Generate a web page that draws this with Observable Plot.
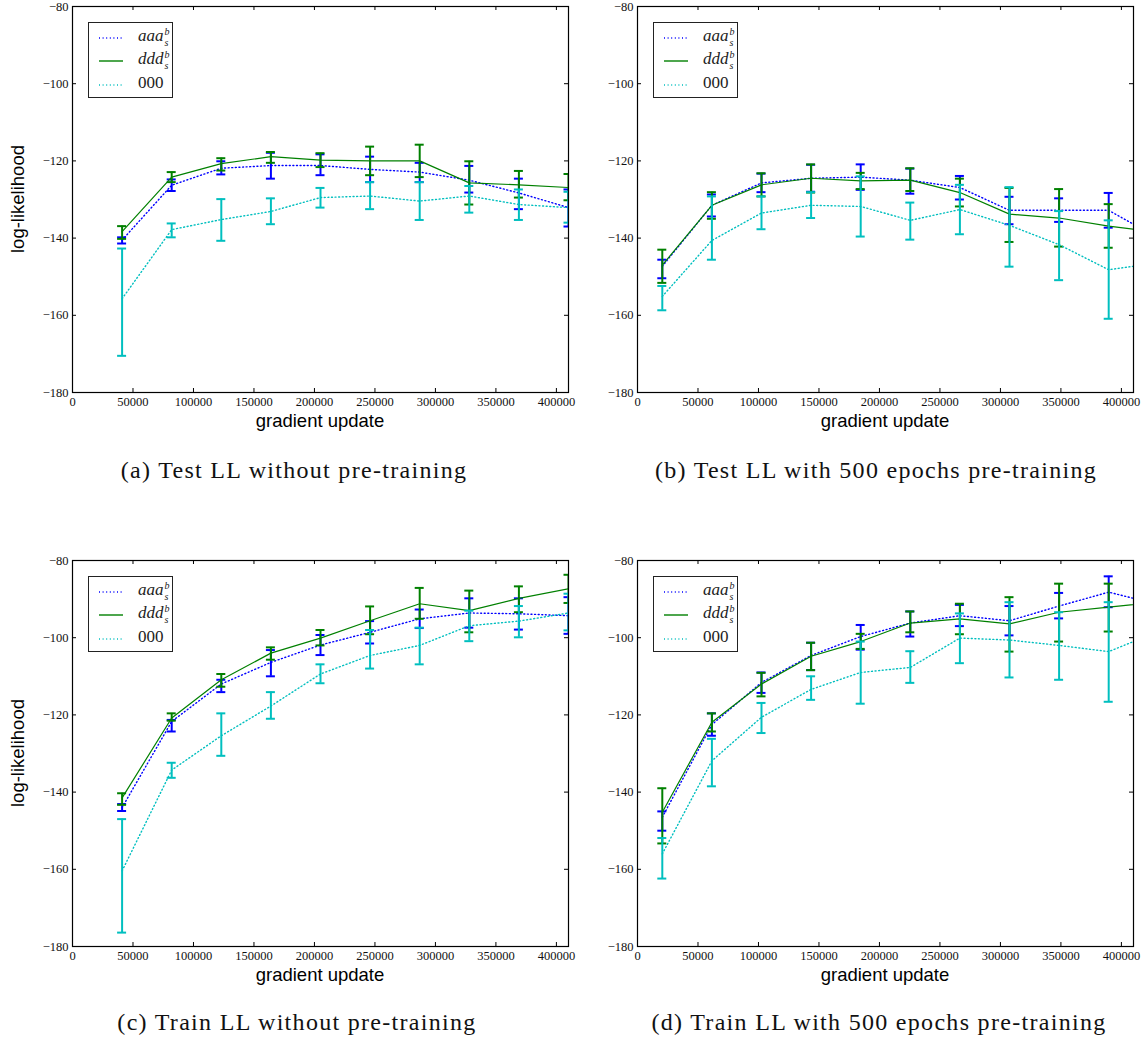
<!DOCTYPE html>
<html>
<head>
<meta charset="utf-8">
<script src="https://cdn.jsdelivr.net/npm/d3@7"></script>
<script src="https://cdn.jsdelivr.net/npm/@observablehq/plot@0.6"></script>
<style>
  html, body { margin: 0; padding: 0; background: #fff; }
  #fig { position: relative; width: 1146px; height: 1040px; background: #fff; overflow: hidden; }
  .panel { position: absolute; }
  .panel svg { overflow: visible; max-width: none; background: transparent; }
  .panel svg text, .panel svg g[aria-label$="tick label"] { font-family: "Liberation Serif", "Times New Roman", serif !important; font-size: 12.5px !important; }
  .xlabel, .ylabel { position: absolute; font-family: "Liberation Sans", Arial, sans-serif; font-size: 18.5px; color: #000; white-space: nowrap; transform: translate(-50%, -50%); }
  .ylabel { transform: translate(-50%, -50%) rotate(-90deg); }
  .caption { position: absolute; font-family: "Liberation Serif", "Times New Roman", serif; font-size: 24px; letter-spacing: 1.3px; color: #111; white-space: nowrap; transform: translate(-50%, -50%); }
  .legend { position: absolute; width: 85px; height: 76px; border: 1.3px solid #222; background: #fff; box-sizing: border-box; }
  .lrow { position: absolute; left: 0; height: 20px; width: 85px; }
  .lrow svg { position: absolute; left: 9px; top: 5px; }
  .ltext { position: absolute; left: 49px; top: -2px; font-family: "Liberation Serif", "Times New Roman", serif; font-size: 17px; color: #222; white-space: nowrap; line-height: 20px; }
  .ltext .base.it { font-style: italic; }
  .ss { display: inline-flex; flex-direction: column; font-style: italic; font-size: 10px; line-height: 11px; vertical-align: 6px; margin-left: 1px; }
</style>
</head>
<body>
<div id="fig"></div>
<script>
// ---------------- data ----------------
const xTicks = [0, 50000, 100000, 150000, 200000, 250000, 300000, 350000, 400000];
const yTicks = [-180, -160, -140, -120, -100, -80];
const xDomain = [0, 410000];
const yDomain = [-180, -80];

const seriesNames = ["aaa", "ddd", "000"];
const seriesSup = ["b", "b", ""];
const seriesSub = ["s", "s", ""];
const seriesItalic = [true, true, false];
const seriesColors = ["#0000ff", "#008000", "#00bfbf"];
const seriesDash = ["1,2.6", null, "1,2.6"];

const captions = [
  "(a) Test LL without pre-training",
  "(b) Test LL with 500 epochs pre-training",
  "(c) Train LL without pre-training",
  "(d) Train LL with 500 epochs pre-training"
];
const xAxisTitle = "gradient update";
const yAxisTitle = "log-likelihood";

// x positions of measurements
const xNoPre = [41000, 82000, 123000, 164000, 205000, 246000, 287000, 328000, 369000, 410000];
const xPre = [20500, 61500, 102500, 143500, 184500, 225500, 266500, 307500, 348500, 389500, 430500];

// (a) Test LL without pre-training
const aAaaMean = [-140.5, -126.3, -121.9, -121.2, -121.2, -122.2, -122.9, -125.0, -128.3, -132.1];
const aAaaHi   = [-139.8, -124.8, -120.1, -117.9, -118.3, -118.9, -120.5, -121.3, -124.6, -127.4];
const aAaaLo   = [-141.4, -127.8, -123.5, -124.6, -123.7, -125.5, -125.5, -128.2, -132.5, -137.0];
const aDddMean = [-138.3, -124.2, -120.7, -118.9, -119.8, -120.0, -120.0, -125.7, -126.2, -126.9];
const aDddHi   = [-136.9, -122.9, -119.3, -117.7, -118.0, -116.3, -115.8, -120.1, -122.6, -123.4];
const aDddLo   = [-140.2, -125.5, -122.5, -120.5, -121.6, -123.7, -124.2, -131.3, -129.5, -130.2];
const aZeroMean = [-155.7, -137.8, -135.2, -133.1, -129.5, -129.1, -130.4, -129.1, -131.3, -132.1];
const aZeroHi   = [-142.7, -136.2, -129.9, -129.7, -127.0, -125.5, -125.5, -126.5, -127.4, -128.0];
const aZeroLo   = [-170.5, -139.8, -140.7, -136.4, -132.1, -132.5, -135.3, -133.4, -135.3, -136.0];

// (b) Test LL with 500 epochs pre-training
const bAaaMean = [-147.3, -131.5, -125.7, -124.5, -124.2, -125.0, -126.9, -132.8, -132.8, -132.8, -140.0];
const bAaaHi   = [-145.6, -128.7, -123.3, -121.0, -120.9, -122.0, -123.9, -129.3, -129.7, -128.3];
const bAaaLo   = [-150.4, -134.4, -128.1, -128.0, -127.5, -128.5, -130.0, -136.4, -135.8, -137.3];
const bDddMean = [-147.0, -131.5, -126.2, -124.5, -125.2, -125.0, -128.2, -133.8, -134.8, -136.9, -138.5];
const bDddHi   = [-143.0, -128.1, -123.2, -120.9, -123.1, -121.9, -124.6, -127.0, -127.3, -131.2];
const bDddLo   = [-151.6, -135.0, -129.2, -128.2, -127.3, -127.8, -131.8, -141.0, -142.2, -142.5];
const bZeroMean = [-155.1, -140.6, -133.5, -131.5, -131.8, -135.4, -132.6, -136.7, -141.7, -148.2, -146.4];
const bZeroHi   = [-152.4, -129.2, -129.2, -128.1, -124.0, -130.8, -126.2, -126.8, -133.0, -135.4];
const bZeroLo   = [-158.7, -145.6, -137.7, -134.8, -139.6, -140.4, -139.0, -147.4, -150.9, -160.9];

// (c) Train LL without pre-training
const cAaaMean = [-144.0, -121.7, -112.0, -106.4, -101.9, -98.6, -95.1, -93.6, -93.8, -94.3];
const cAaaHi   = [-143.1, -121.3, -110.9, -103.2, -99.3, -95.7, -92.7, -89.8, -89.8, -89.5];
const cAaaLo   = [-144.9, -124.3, -114.1, -110.0, -104.5, -101.5, -97.5, -97.4, -97.9, -99.0];
const cDddMean = [-141.5, -120.8, -110.9, -104.0, -100.1, -95.6, -91.2, -93.0, -89.8, -87.3];
const cDddHi   = [-140.3, -119.6, -109.4, -102.5, -98.0, -91.9, -87.1, -87.8, -86.7, -83.7];
const cDddLo   = [-143.3, -121.5, -112.7, -105.7, -102.0, -99.1, -95.1, -98.6, -93.4, -91.0];
const cZeroMean = [-160.4, -134.3, -125.4, -117.7, -109.4, -104.6, -102.0, -96.9, -95.7, -93.6];
const cZeroHi   = [-147.0, -132.4, -119.6, -114.1, -106.9, -98.0, -97.4, -93.0, -91.8, -88.6];
const cZeroLo   = [-176.4, -136.3, -130.6, -121.0, -111.8, -108.0, -106.9, -100.9, -99.9, -98.1];

// (d) Train LL with 500 epochs pre-training
const dAaaMean = [-146.5, -122.5, -111.6, -104.6, -99.7, -96.2, -94.3, -95.6, -91.8, -88.2, -91.4];
const dAaaHi   = [-145.0, -119.6, -109.0, -101.3, -96.7, -93.2, -91.5, -91.8, -88.4, -84.1];
const dAaaLo   = [-150.0, -125.4, -114.3, -108.4, -103.1, -99.7, -97.0, -99.4, -95.0, -92.1];
const dDddMean = [-145.2, -121.9, -112.0, -104.8, -101.0, -96.2, -95.1, -96.4, -93.4, -92.1, -90.7];
const dDddHi   = [-139.0, -119.6, -109.1, -101.3, -99.0, -93.2, -91.2, -89.5, -86.0, -86.0];
const dDddLo   = [-153.3, -124.3, -115.2, -108.4, -102.9, -98.6, -99.1, -103.6, -101.0, -98.4];
const dZeroMean = [-156.0, -131.9, -120.6, -113.4, -109.0, -107.7, -100.1, -100.6, -102.0, -103.6, -98.4];
const dZeroHi   = [-151.9, -126.2, -116.9, -110.0, -101.0, -103.5, -93.7, -90.8, -93.4, -90.8];
const dZeroLo   = [-162.4, -138.5, -124.7, -116.1, -117.1, -111.7, -106.6, -110.3, -110.9, -116.6];

const panels = [
  {x: xNoPre, left: 0, top: 0, ylabel: true, caption: captions[0], capX: 294, capY: 470,
   series: [[aAaaMean, aAaaHi, aAaaLo], [aDddMean, aDddHi, aDddLo], [aZeroMean, aZeroHi, aZeroLo]]},
  {x: xPre, left: 565, top: 0, ylabel: false, caption: captions[1], capX: 876, capY: 470,
   series: [[bAaaMean, bAaaHi, bAaaLo], [bDddMean, bDddHi, bDddLo], [bZeroMean, bZeroHi, bZeroLo]]},
  {x: xNoPre, left: 0, top: 554, ylabel: true, caption: captions[2], capX: 297, capY: 1022,
   series: [[cAaaMean, cAaaHi, cAaaLo], [cDddMean, cDddHi, cDddLo], [cZeroMean, cZeroHi, cZeroLo]]},
  {x: xPre, left: 565, top: 554, ylabel: false, caption: captions[3], capX: 879, capY: 1022,
   series: [[dAaaMean, dAaaHi, dAaaLo], [dDddMean, dDddHi, dDddLo], [dZeroMean, dZeroHi, dZeroLo]]}
];

// ---------------- layout ----------------
const W = 575, H = 420, mL = 72, mR = 7, mT = 6, mB = 28;
const plotW = W - mL - mR, plotH = H - mT - mB;
const tickLen = 4;
const tickFont = "'Liberation Serif', 'Times New Roman', serif";
const fig = document.getElementById("fig");

function panelMarks(p) {
  const marks = [];
  p.series.forEach(([mean, hi, lo], s) => {
    const color = seriesColors[s];
    const lineRows = mean.map((y, i) => ({x: p.x[i], y}));
    const errRows = hi.map((h, i) => ({x: p.x[i], hi: h, lo: lo[i]}));
    marks.push(
      Plot.ruleX(errRows, {x: "x", y1: "lo", y2: "hi", stroke: color, strokeWidth: 2, clip: true}),
      Plot.ruleY(errRows, {x1: "x", x2: "x", y: "hi", stroke: color, strokeWidth: 2, insetLeft: -4.5, insetRight: -4.5, clip: true}),
      Plot.ruleY(errRows, {x1: "x", x2: "x", y: "lo", stroke: color, strokeWidth: 2, insetLeft: -4.5, insetRight: -4.5, clip: true}),
      Plot.line(lineRows, {x: "x", y: "y", stroke: color, strokeWidth: s === 1 ? 1.2 : 1.4,
        strokeDasharray: seriesDash[s] || undefined, clip: true})
    );
  });
  return marks;
}

panels.forEach((p) => {
  const chart = Plot.plot({
    width: W, height: H,
    marginLeft: mL, marginRight: mR, marginTop: mT, marginBottom: mB,
    style: {fontFamily: tickFont, fontSize: "12.5px", background: "transparent", overflow: "visible"},
    x: {domain: xDomain, ticks: xTicks, tickFormat: d3.format("d"), label: null},
    y: {domain: yDomain, ticks: yTicks, tickFormat: d3.format("d"), label: null},
    marks: [
      Plot.axisX({ticks: xTicks, tickSize: 0, tickPadding: 5, tickFormat: d3.format("d"), label: null,
        fontFamily: tickFont, fontSize: 12.5, fill: "#111"}),
      Plot.axisY({ticks: yTicks, tickSize: 0, tickPadding: 4, tickFormat: d3.format("d"), label: null,
        fontFamily: tickFont, fontSize: 12.5, fill: "#111"}),
      ...panelMarks(p),
      Plot.tickX(xTicks, {x: d => d, insetTop: plotH - tickLen, stroke: "#000"}),
      Plot.tickX(xTicks, {x: d => d, insetBottom: plotH - tickLen, stroke: "#000"}),
      Plot.tickY(yTicks, {y: d => d, insetRight: plotW - tickLen, stroke: "#000"}),
      Plot.tickY(yTicks, {y: d => d, insetLeft: plotW - tickLen, stroke: "#000"}),
      Plot.frame({stroke: "#000", strokeWidth: 1.2})
    ]
  });
  chart.setAttribute("font-family", tickFont);
  chart.setAttribute("font-size", "12.5");
  const holder = document.createElement("div");
  holder.className = "panel";
  holder.style.left = p.left + "px";
  holder.style.top = p.top + "px";
  holder.appendChild(chart);
  fig.appendChild(holder);

  // legend
  const lg = document.createElement("div");
  lg.className = "legend";
  lg.style.left = (p.left + 88) + "px";
  lg.style.top = (p.top + 22) + "px";
  seriesNames.forEach((name, s) => {
    const row = document.createElement("div");
    row.className = "lrow";
    row.style.top = (5 + s * 23.3) + "px";
    const dash = seriesDash[s] ? `stroke-dasharray="${seriesDash[s]}"` : "";
    row.innerHTML =
      `<svg width="26" height="10"><line x1="1" x2="25" y1="5" y2="5" stroke="${seriesColors[s]}" stroke-width="1.4" ${dash}/></svg>` +
      `<span class="ltext"><span class="base${seriesItalic[s] ? " it" : ""}">${name}</span>` +
      (seriesSup[s] ? `<span class="ss"><span>${seriesSup[s]}</span><span>${seriesSub[s]}</span></span>` : "") +
      `</span>`;
    lg.appendChild(row);
  });
  fig.appendChild(lg);

  // axis titles
  const xl = document.createElement("div");
  xl.className = "xlabel";
  xl.textContent = xAxisTitle;
  xl.style.left = (p.left + mL + plotW / 2) + "px";
  xl.style.top = (p.top + 421) + "px";
  fig.appendChild(xl);
  if (p.ylabel) {
    const yl = document.createElement("div");
    yl.className = "ylabel";
    yl.textContent = yAxisTitle;
    yl.style.left = "18px";
    yl.style.top = (p.top + mT + plotH / 2) + "px";
    fig.appendChild(yl);
  }
  const cap = document.createElement("div");
  cap.className = "caption";
  cap.textContent = p.caption;
  cap.style.left = p.capX + "px";
  cap.style.top = p.capY + "px";
  fig.appendChild(cap);
});
</script>
</body>
</html>
